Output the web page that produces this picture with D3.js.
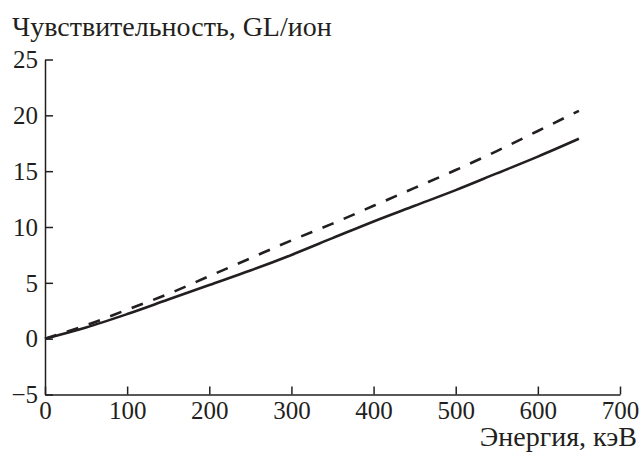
<!DOCTYPE html>
<html>
<head>
<meta charset="utf-8">
<script src="https://cdn.jsdelivr.net/npm/d3@7"></script>
<style>
  body { margin: 0; background: #fff; }
</style>
</head>
<body>
<script>
// energy, keV
var energy = [0, 50, 100, 150, 200, 250, 300, 350, 400, 450, 500, 550, 600, 650];
// sensitivity, solid curve
var solidVals = [0, 1.0, 2.2, 3.5, 4.8, 6.1, 7.5, 9.0, 10.5, 11.9, 13.3, 14.8, 16.3, 17.9];
// sensitivity, dashed curve
var dashedVals = [0, 1.2, 2.6, 4.0, 5.6, 7.2, 8.8, 10.3, 11.9, 13.5, 15.1, 16.8, 18.6, 20.4];
var xTicks = [0, 100, 200, 300, 400, 500, 600, 700];
var yTicks = [-5, 0, 5, 10, 15, 20, 25];

var W = 640, H = 452;
var ink = "#231f20";
var font = "'Liberation Serif'";

var svg = d3.select("body").append("svg").attr("width", W).attr("height", H)
  .style("font-family", font);

var x = d3.scaleLinear().domain([0, 700]).range([45, 620]);
var y = d3.scaleLinear().domain([-5, 25]).range([394.5, 59.5]);

// axes: ticks point inward
var xAxis = svg.append("g")
  .attr("transform", "translate(0," + y(-5) + ")")
  .call(d3.axisBottom(x).tickValues(xTicks).tickSizeInner(-8).tickSizeOuter(0)
    .tickFormat(function(d) { return d; }));
var yAxis = svg.append("g")
  .attr("transform", "translate(" + x(0) + ",0)")
  .call(d3.axisLeft(y).tickValues(yTicks).tickSizeInner(-8).tickSizeOuter(0)
    .tickFormat(function(d) { return d < 0 ? "\u2212" + Math.abs(d) : d; }));

svg.selectAll("g").attr("font-family", null);
svg.selectAll(".domain, .tick line").attr("stroke", ink).attr("stroke-width", 1.5);
svg.selectAll(".tick text")
  .style("font-family", font).style("font-size", "25px").attr("fill", ink);
xAxis.selectAll(".tick text").attr("dy", null).attr("y", 24);
yAxis.selectAll(".tick text").attr("x", -7).attr("dy", "0.33em");

var line = d3.line()
  .x(function(d, i) { return x(energy[i]); })
  .y(function(d) { return y(d); })
  .curve(d3.curveMonotoneX);

svg.append("path").datum(solidVals)
  .attr("fill", "none").attr("stroke", ink).attr("stroke-width", 2.6)
  .attr("d", line);
svg.append("path").datum(dashedVals)
  .attr("fill", "none").attr("stroke", ink).attr("stroke-width", 2.6)
  .attr("stroke-dasharray", "12,11")
  .attr("d", line);

svg.append("text").attr("x", 12).attr("y", 36)
  .style("font-family", font).style("font-size", "28px").attr("fill", ink)
  .text("Чувствительность, GL/ион");
svg.append("text").attr("x", 637).attr("y", 446)
  .style("font-family", font).style("font-size", "28px").attr("fill", ink)
  .attr("text-anchor", "end")
  .text("Энергия, кэВ");
</script>
</body>
</html>
